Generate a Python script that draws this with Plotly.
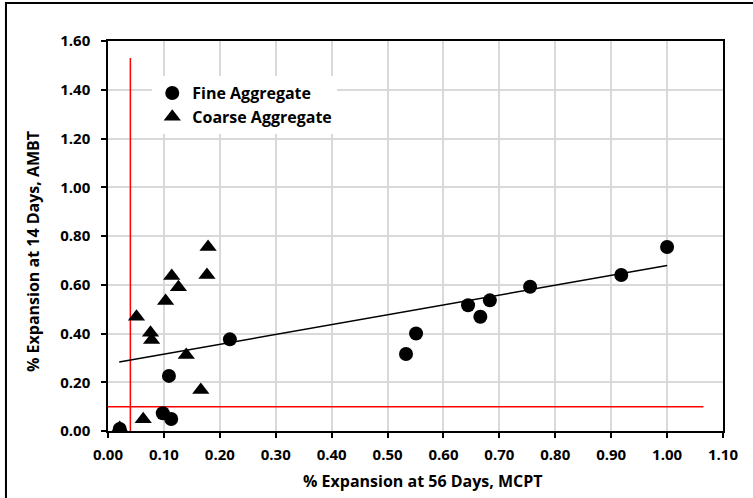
import plotly.graph_objects as go

# Fine aggregate (circles)
fine_x = [0.021, 0.098, 0.113, 0.109, 0.218, 0.533, 0.551, 0.644, 0.666, 0.683, 0.755, 0.918, 1.000]
fine_y = [0.008, 0.073, 0.049, 0.226, 0.376, 0.316, 0.400, 0.516, 0.469, 0.536, 0.592, 0.640, 0.755]

# Coarse aggregate (triangles)
coarse_x = [0.021, 0.063, 0.051, 0.076, 0.078, 0.103, 0.114, 0.126, 0.140, 0.166, 0.177, 0.179]
coarse_y = [0.012, 0.048, 0.469, 0.403, 0.373, 0.533, 0.636, 0.590, 0.312, 0.168, 0.640, 0.755]

# Trend line endpoints
trend_x = [0.02, 1.00]
trend_y = [0.283, 0.679]

# Red limit lines
vline_x = [0.04, 0.04]
vline_y = [0.0, 1.53]
hline_x = [0.0, 1.065]
hline_y = [0.10, 0.10]

x_ticks = [round(i * 0.1, 2) for i in range(12)]
y_ticks = [round(i * 0.2, 2) for i in range(9)]

x_title = "% Expansion at 56 Days, MCPT"
y_title = "% Expansion at 14 Days, AMBT"

FONT = "Open Sans"

fig = go.Figure()
fig.add_trace(go.Scatter(x=vline_x, y=vline_y, mode="lines",
                         line=dict(color="#ff0000", width=1.5), showlegend=False, hoverinfo="skip"))
fig.add_trace(go.Scatter(x=hline_x, y=hline_y, mode="lines",
                         line=dict(color="#ff0000", width=1.5), showlegend=False, hoverinfo="skip"))
fig.add_trace(go.Scatter(x=trend_x, y=trend_y, mode="lines",
                         line=dict(color="black", width=1.5), showlegend=False, hoverinfo="skip"))
fig.add_trace(go.Scatter(x=fine_x, y=fine_y, mode="markers", name="Fine Aggregate",
                         marker=dict(symbol="circle", size=14, color="black"), legendgroup="a"))
fig.add_trace(go.Scatter(x=coarse_x, y=coarse_y, mode="markers", name="Coarse Aggregate",
                         marker=dict(symbol="triangle-up", size=15, color="black"), legendgroup="b"))

axis_common = dict(
    showgrid=True, gridcolor="#d9d9d9", gridwidth=2,
    showline=True, linecolor="black", linewidth=1.5, mirror=True,
    ticks="outside", ticklen=5, tickcolor="black", tickwidth=1.5,
    zeroline=False,
    tickfont=dict(family=FONT, size=15, color="#000000", weight="bold"),
)

fig.update_xaxes(range=[0, 1.1], tickvals=x_ticks, ticktext=[f"{v:.2f}" for v in x_ticks],
                 ticklabelstandoff=4, **axis_common)
fig.update_yaxes(range=[0, 1.6], tickvals=y_ticks, ticktext=[f"{v:.2f}" for v in y_ticks],
                 ticklabelstandoff=8, **axis_common)

title_font = dict(family=FONT, size=16, color="black", weight="bold")

fig.update_layout(
    width=753, height=498,
    margin=dict(l=108, r=30, t=41, b=67, autoexpand=False),
    paper_bgcolor="white", plot_bgcolor="white",
    font=dict(family=FONT, size=15, color="black", weight="bold"),
    showlegend=True,
    legend=dict(x=0.072, y=0.91, xanchor="left", yanchor="top",
                bgcolor="white", borderwidth=0, tracegroupgap=0,
                traceorder="grouped",
                font=dict(family=FONT, size=16, color="black", weight="bold")),
    hovermode=False,
    annotations=[
        dict(text=x_title, xref="paper", yref="paper",
             x=(422.5 - 108) / 615, y=(431 - 481) / 390, xanchor="center", yanchor="middle",
             showarrow=False, font=title_font),
        dict(text=y_title, xref="paper", yref="paper", textangle=-90,
             x=(33 - 108) / 615, y=(431 - 252) / 390, xanchor="center", yanchor="middle",
             showarrow=False, font=title_font),
    ],
    shapes=[dict(type="rect", xref="paper", yref="paper",
                 x0=-0.1659, x1=1.2, y0=-0.3, y1=1.0974,
                 line=dict(color="black", width=2), fillcolor="rgba(0,0,0,0)", layer="above")],
)

fig.write_html("out.html")
